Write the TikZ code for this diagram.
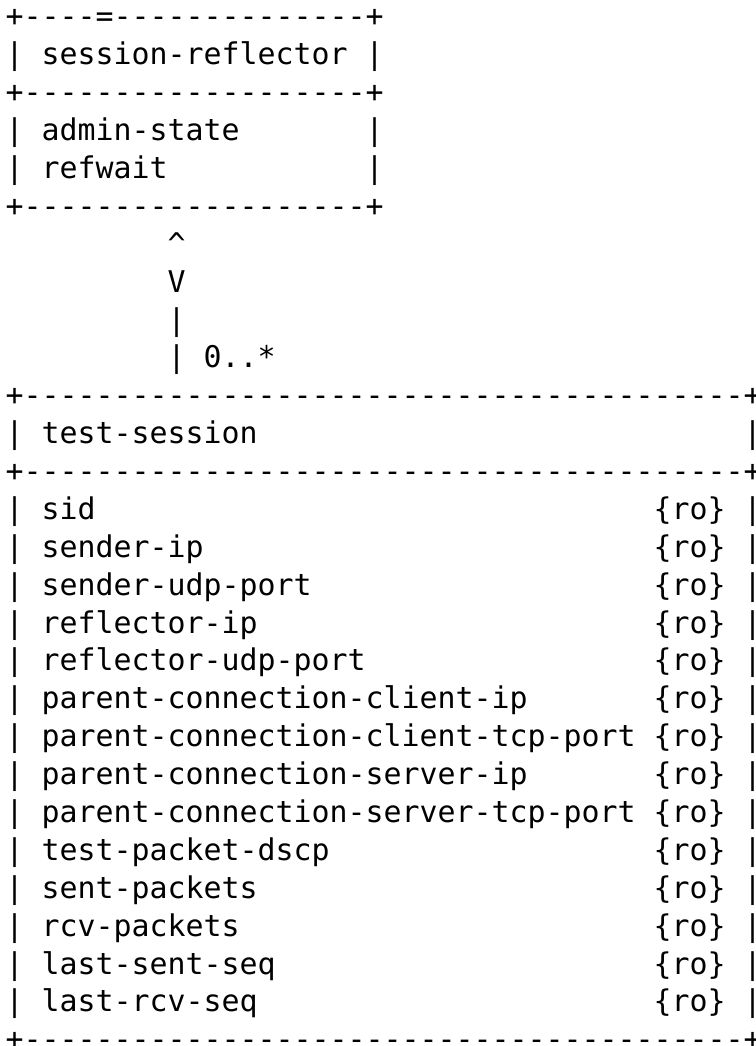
\documentclass[tikz,border=0pt]{standalone}
\usepackage{fontspec}
\setmonofont{DejaVu Sans Mono}

\begin{document}
\begin{tikzpicture}[x=18pt,y=-37.88pt,
  every node/.style={font=\ttfamily\fontsize{29.9}{36}\selectfont,inner sep=0pt,anchor=base west}]
\useasboundingbox (-14.5pt,27pt) rectangle (740.5pt,-1019pt);

 % session-reflector box
 \node (top) at (-0.5,0) {+----=--------------+};
 \node (sl1) at (-0.5,1) {|}; \node (srname) at (1.5,1) {session-reflector}; \node (sr1) at (19.5,1) {|};
 \node (mid) at (-0.5,2) {+-------------------+};
 \node (sl3) at (-0.5,3) {|}; \node (adm) at (1.5,3) {admin-state}; \node (sr3) at (19.5,3) {|};
 \node (sl4) at (-0.5,4) {|}; \node (rfw) at (1.5,4) {refwait}; \node (sr4) at (19.5,4) {|};
 \node (bot) at (-0.5,5) {+-------------------+};

 % link
 \node (up) at (8.5,6) {\textasciicircum};
 \node (dn) at (8.5,7) {V};
 \node (bar1) at (8.5,8) {|};
 \node (bar2) at (8.5,9) {|};
 \node (card) at (10.5,9) {0..*};

 % test-session box
 \node (ttop) at (-0.5,10) {+----------------------------------------+};
 \node (tl) at (-0.5,11) {|}; \node (tsname) at (1.5,11) {test-session}; \node (tr) at (40.5,11) {|};
 \node (tmid) at (-0.5,12) {+----------------------------------------+};
 \foreach \nm [count=\i from 13] in {sid,sender-ip,sender-udp-port,reflector-ip,
   reflector-udp-port,parent-connection-client-ip,parent-connection-client-tcp-port,
   parent-connection-server-ip,parent-connection-server-tcp-port,test-packet-dscp,
   sent-packets,rcv-packets,last-sent-seq,last-rcv-seq}{
   \node (l\i) at (-0.5,\i) {|};
   \node (n\i) at (1.5,\i) {\nm};
   \node (ro\i) at (35.5,\i) {\{ro\}};
   \node (r\i) at (40.5,\i) {|};
 }
 \node (tbot) at (-0.5,27) {+----------------------------------------+};

\end{tikzpicture}
\end{document}
